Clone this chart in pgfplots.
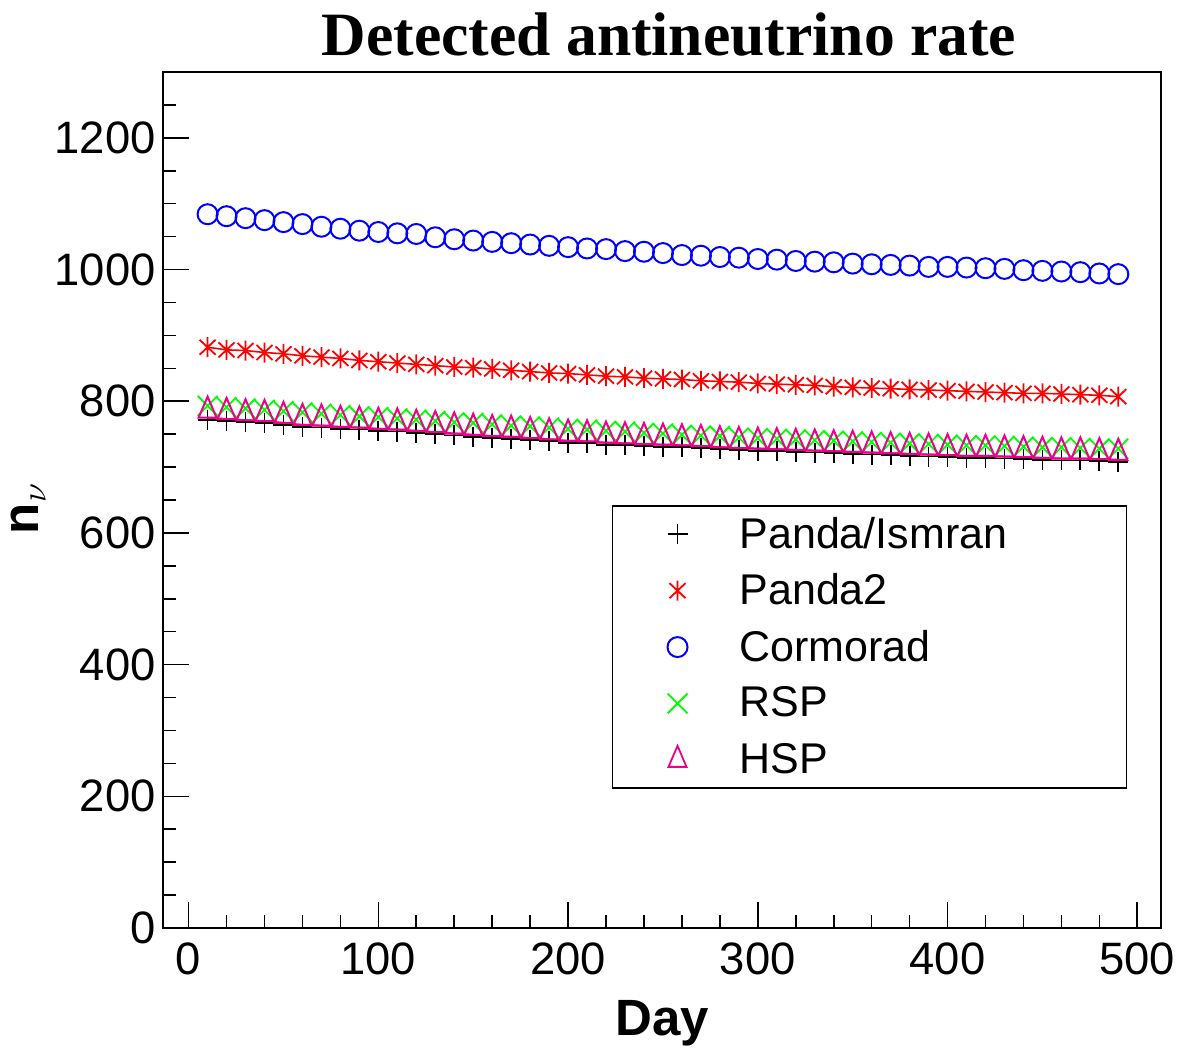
\documentclass[border=0pt]{standalone}
\usepackage{fontspec}
\setmainfont{Liberation Sans}
\newfontfamily\titlefont{Liberation Serif}
\usepackage{pgfplots}
\pgfplotsset{compat=1.18}
\usepackage{pgfplotstable}

\pgfdeclareplotmark{rootstar}{%
  \pgfpathmoveto{\pgfqpoint{0pt}{\pgfplotmarksize}}%
  \pgfpathlineto{\pgfqpoint{0pt}{-\pgfplotmarksize}}%
  \pgfpathmoveto{\pgfqpoint{-.8\pgfplotmarksize}{-.75\pgfplotmarksize}}%
  \pgfpathlineto{\pgfqpoint{.8\pgfplotmarksize}{.75\pgfplotmarksize}}%
  \pgfpathmoveto{\pgfqpoint{-.8\pgfplotmarksize}{.75\pgfplotmarksize}}%
  \pgfpathlineto{\pgfqpoint{.8\pgfplotmarksize}{-.75\pgfplotmarksize}}%
  \pgfusepathqstroke}

\pgfplotsset{
  hsplegend/.style={legend image code/.code={\path[draw=none,fill=none] (-32.5pt,-14.1pt) rectangle (31pt,14.1pt);\draw[##1, mark options={yscale=1.35, line width=0.9pt}] plot coordinates {(0pt,0pt)};}},
}

\pgfplotstableread{
day cor p2 rsp hsp pis
10 1084 882 793 775 772
20 1081 878 791 773 770
30 1078 877 789 771 768
40 1075 874 787 770 767
50 1072 872 785 767 764
60 1069 869 783 764 761
70 1065 867 781 763 760
80 1062 865 779 761 758
90 1059 862 777 760 757
100 1057 860 776 758 755
110 1055 858 774 757 754
120 1054 856 772 755 752
130 1049 854 770 753 750
140 1046 852 768 751 748
150 1044 851 767 749 746
160 1042 849 765 747 744
170 1040 847 763 746 743
180 1038 845 762 744 741
190 1036 843 760 742 739
200 1034 842 758 740 737
210 1032 840 757 739 736
220 1031 838 755 737 734
230 1028 837 754 736 733
240 1027 835 752 735 732
250 1025 834 751 734 731
260 1022 833 749 733 730
270 1021 831 748 732 729
280 1019 830 747 730 727
290 1018 829 745 729 726
300 1016 827 744 728 725
310 1015 826 743 727 724
320 1013 825 742 726 723
330 1012 824 741 725 722
340 1011 822 740 724 721
350 1009 821 739 723 720
360 1008 820 738 722 719
370 1007 819 737 721 718
380 1006 818 736 720 717
390 1004 817 735 719 716
400 1004 816 734 718 715
410 1003 815 733 717 714
420 1002 814 733 717 714
430 1001 813 732 716 713
440 999 812 731 715 712
450 998 812 730 714 711
460 997 811 730 713 710
470 996 810 729 713 710
480 994 809 728 712 709
490 993 807 728 711 708
}\data

\begin{document}
\begin{tikzpicture}
\useasboundingbox (-81.5pt,-61pt) rectangle (509.5pt,464pt);
\begin{axis}[
  scale only axis,
  width=499pt, height=428pt,
  xmin=-13.5, xmax=512.5,
  ymin=0, ymax=1300,
  axis line style={line width=1pt},
  xtick={0,100,...,500},
  ytick={0,200,...,1200},
  minor xtick={20,40,...,480},
  minor ytick={50,100,...,1250},
  xtick pos=bottom, ytick pos=left,
  tick align=inside,
  major tick length=13pt,
  minor tick length=6.5pt,
  every tick/.style={line width=0.8pt, black},
  /pgf/number format/assume math mode=true,
  /pgf/number format/1000 sep={},
  tick label style={font=\fontsize{22.7}{26}\selectfont, inner sep=0pt},
  xticklabel style={anchor=north, yshift=-7pt},
  yticklabel style={anchor=east, xshift=-3.5pt},
  every axis title shift=0pt,
  title={\titlefont\bfseries\fontsize{30.8}{34}\selectfont Detected antineutrino rate},
  title style={at={(axis description cs:0.507,1.0187)}, anchor=base, inner sep=0pt},
  xlabel={\bfseries\fontsize{25.5}{28}\selectfont Day},
  xlabel style={at={(axis description cs:0.5,-0.125)}, anchor=base, inner sep=0pt},
  ylabel={\bfseries\fontsize{25.5}{28}\selectfont n$_{\nu}$},
  ylabel style={at={(axis description cs:-0.135,0.49)}, anchor=center, inner sep=0pt},
  legend style={at={(axis cs:223,642)}, anchor=north west, draw=black, line width=0.8pt,
    inner sep=0pt, row sep=0pt, column sep=0pt,
    font=\fontsize{21.5}{24}\selectfont,
    nodes={inner sep=0pt}, cells={anchor=west}},
  legend image code/.code={\path[draw=none,fill=none] (-32.5pt,-14.1pt) rectangle (31pt,14.1pt);\draw[#1] plot coordinates {(0pt,0pt)};},
]
\addplot[only marks, black, mark=+, mark size=5pt, mark options={line width=0.9pt}] table[x=day,y=pis]{\data};
\addlegendentry{\makebox[193.5pt][l]{Panda/Ismran}}
\addplot[red, line width=0.8pt, mark=rootstar, mark size=5pt, mark options={line width=0.9pt}] table[x=day,y=p2]{\data};
\addlegendentry{\makebox[193.5pt][l]{Panda2}}
\addplot[only marks, blue, mark=o, mark size=5pt, mark options={line width=1pt}] table[x=day,y=cor]{\data};
\addlegendentry{\makebox[193.5pt][l]{Cormorad}}
\addplot[only marks, green, mark=x, mark size=7pt, mark options={line width=0.9pt}] table[x=day,y=rsp]{\data};
\addlegendentry{\makebox[193.5pt][l]{RSP}}
\addplot[magenta, line width=1pt, forget plot] table[x=day,y=hsp]{\data};
\addplot[only marks, magenta, mark=triangle, mark size=5.2pt, mark options={yshift=3.5pt, yscale=1.35, line width=1pt}, hsplegend] table[x=day,y=hsp]{\data};
\addlegendentry{\makebox[193.5pt][l]{HSP}}
\end{axis}
\end{tikzpicture}
\end{document}
